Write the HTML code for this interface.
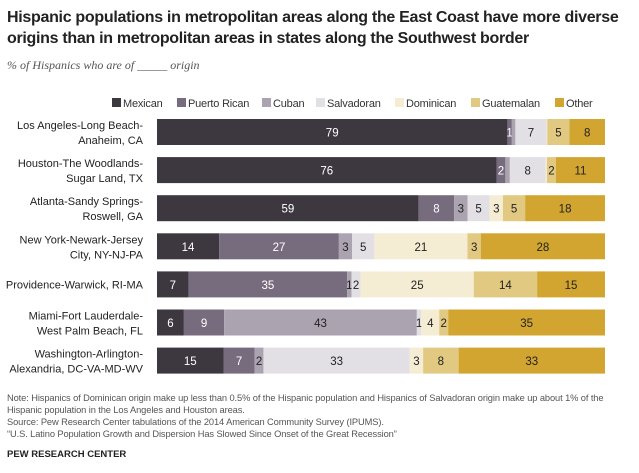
<!DOCTYPE html>
<html><head><meta charset="utf-8"><style>
body{margin:0;width:639px;height:473px;background:#fff;font-family:"Liberation Sans",sans-serif;position:relative;overflow:hidden;color:#222}
.t{position:absolute;left:7px;top:7px;font-size:16px;font-weight:bold;line-height:21px;width:630px;letter-spacing:-0.3px}
.s{position:absolute;left:7px;top:58px;font-family:"Liberation Serif",serif;font-style:italic;font-size:12px;color:#555}
.n{position:absolute;left:7px;top:392px;font-size:9.3px;line-height:12px;color:#555;width:625px;letter-spacing:-0.1px}
.p{position:absolute;left:7px;top:449px;font-size:9.5px;font-weight:bold;color:#222}
</style></head><body>
<div class="t">Hispanic populations in metropolitan areas along the East Coast have more diverse origins than in metropolitan areas in states along the Southwest border</div>
<div class="s">% of Hispanics who are of _____ origin</div>
<svg id="c" width="639" height="473" style="position:absolute;left:0;top:0"></svg>
<div class="n">Note: Hispanics of Dominican origin make up less than 0.5% of the Hispanic population and Hispanics of Salvadoran origin make up about 1% of the Hispanic population in the Los Angeles and Houston areas.<br>Source: Pew Research Center tabulations of the 2014 American Community Survey (IPUMS).<br>“U.S. Latino Population Growth and Dispersion Has Slowed Since Onset of the Great Recession”</div>
<div class="p">PEW RESEARCH CENTER</div>
<script>
const categories=[["Los Angeles-Long Beach-","Anaheim, CA"],["Houston-The Woodlands-","Sugar Land, TX"],["Atlanta-Sandy Springs-","Roswell, GA"],["New York-Newark-Jersey","City, NY-NJ-PA"],["Providence-Warwick, RI-MA",""],["Miami-Fort Lauderdale-","West Palm Beach, FL"],["Washington-Arlington-","Alexandria, DC-VA-MD-WV"]];
const series=["Mexican","Puerto Rican","Cuban","Salvadoran","Dominican","Guatemalan","Other"];
const mexican=[79,76,59,14,7,6,15];
const puertoRican=[1,2,8,27,35,9,7];
const cuban=[0.8,1,3,3,1,43,2];
const salvadoran=[7,8,5,5,2,1,33];
const dominican=[0.2,0.3,3,21,25,4,3];
const guatemalan=[5,2,5,3,14,2,8];
const other=[8,11,18,28,15,35,33];
const labels=[["79","1","","7","","5","8"],["76","2","","8","","2","11"],["59","8","3","5","3","5","18"],["14","27","3","5","21","3","28"],["7","35","1","2","25","14","15"],["6","9","43","1","4","2","35"],["15","7","2","33","3","8","33"]];
const colors=["#3d3740","#776b7e","#aba3b0","#e3e0e5","#f5ecd4","#e1c982","#d2a531"];
const txt=["#fff","#fff","#222","#222","#222","#222","#222"];
const data=[mexican,puertoRican,cuban,salvadoran,dominican,guatemalan,other];
const svg=document.getElementById('c');const NS="http://www.w3.org/2000/svg";
const x0=157,W=448,y0=119,step=38.1,h=26;
function mk(t,a){const e=document.createElementNS(NS,t);for(const k in a)e.setAttribute(k,a[k]);svg.appendChild(e);return e;}
let lx=[112,177,262,316,395,471,555];
series.forEach((s,i)=>{
 const r=mk('rect',{x:lx[i],y:98,width:9,height:9,fill:colors[i]});
 
 
 const t=mk('text',{x:lx[i]+11,y:107,'font-size':11,fill:'#333','letter-spacing':'-0.2'});t.textContent=s;
 
 
});
categories.forEach((c,r)=>{
 const y=y0+r*step;
 const tot=data.reduce((a,d)=>a+d[r],0);
 let x=x0;
 if(c[1]){[0,1].forEach(k=>{const t=mk('text',{x:143,y:y+10+k*15,'font-size':11,'text-anchor':'end',fill:'#222'});t.textContent=c[k];});}
 else{const t=mk('text',{x:143,y:y+17,'font-size':11,'text-anchor':'end',fill:'#222'});t.textContent=c[0];}
 data.forEach((d,i)=>{
  const w=d[r]/tot*W;
  const b=mk('rect',{x:x,y:y,width:w,height:h,fill:colors[i]});
  
  
  if(labels[r][i]){const t=mk('text',{x:x+w/2,y:y+17.5,'font-size':11.5,'text-anchor':'middle',fill:txt[i]});t.textContent=labels[r][i];}
  x+=w;
 });
});
</script>
</body></html>
